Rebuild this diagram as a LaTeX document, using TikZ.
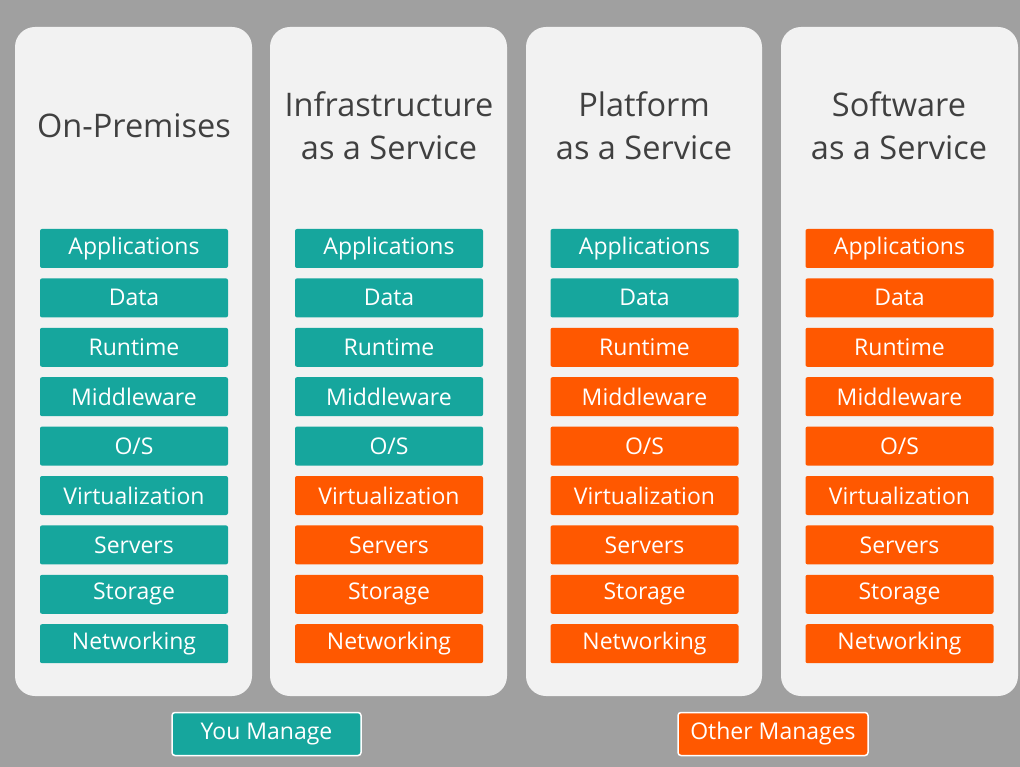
\documentclass[tikz,border=0pt]{standalone}
\usepackage{fontspec}
\setmainfont{Open Sans}
\definecolor{bggray}{RGB}{160, 160, 160}
\definecolor{panelgray}{RGB}{242, 242, 242}
\definecolor{titlegray}{RGB}{64, 64, 64}
\definecolor{youteal}{RGB}{22, 166, 157}
\definecolor{otherorange}{RGB}{255, 88, 0}
\usepackage{tikz}
\usetikzlibrary{positioning}

\begin{document}
\begin{tikzpicture}[
  x=1pt, y=-1pt, node distance=10pt,
  panel/.style={fill=panelgray, rounded corners=20pt},
  ttl/.style={text=titlegray, align=center, font=\fontsize{32.5}{43}\selectfont},
  lay/.style={rounded corners=2pt, minimum width=188pt, minimum height=39pt, inner sep=0pt, text=white, font=\fontsize{23}{26}\selectfont},
  tbox/.style={lay, fill=youteal},
  obox/.style={lay, fill=otherorange},
  legend/.style={draw=white, line width=1.5pt, rounded corners=3pt, minimum height=43pt, inner sep=0pt, text=white, font=\fontsize{23}{26}\selectfont}
]
  \fill[bggray] (0,0) rectangle (1020,767);

  % the four columns
  \fill[panel] (15,27) rectangle (252,696);
  \fill[panel] (270,27) rectangle (507,696);
  \fill[panel] (526,27) rectangle (762,696);
  \fill[panel] (781,27) rectangle (1018,696);

  \node[ttl] (opTitle) at (134,126) {On-Premises};
  \node[ttl] (iaTitle) at (389,126) {Infrastructure\\as a Service};
  \node[ttl] (paTitle) at (644,126) {Platform\\as a Service};
  \node[ttl] (saTitle) at (899,126) {Software\\as a Service};

  % On-Premises
  \node[tbox] (op1) at (134,248.5) {Applications};
  \node[tbox, below=of op1] (op2) {Data};
  \node[tbox, below=of op2] (op3) {Runtime};
  \node[tbox, below=of op3] (op4) {Middleware};
  \node[tbox, below=of op4] (op5) {O/S};
  \node[tbox, below=of op5] (op6) {Virtualization};
  \node[tbox, below=of op6] (op7) {Servers};
  \node[tbox, below=of op7] (op8) {Storage};
  \node[tbox, below=of op8] (op9) {Networking};

  % IaaS
  \node[tbox] (ia1) at (389,248.5) {Applications};
  \node[tbox, below=of ia1] (ia2) {Data};
  \node[tbox, below=of ia2] (ia3) {Runtime};
  \node[tbox, below=of ia3] (ia4) {Middleware};
  \node[tbox, below=of ia4] (ia5) {O/S};
  \node[obox, below=of ia5] (ia6) {Virtualization};
  \node[obox, below=of ia6] (ia7) {Servers};
  \node[obox, below=of ia7] (ia8) {Storage};
  \node[obox, below=of ia8] (ia9) {Networking};

  % PaaS
  \node[tbox] (pa1) at (644.5,248.5) {Applications};
  \node[tbox, below=of pa1] (pa2) {Data};
  \node[obox, below=of pa2] (pa3) {Runtime};
  \node[obox, below=of pa3] (pa4) {Middleware};
  \node[obox, below=of pa4] (pa5) {O/S};
  \node[obox, below=of pa5] (pa6) {Virtualization};
  \node[obox, below=of pa6] (pa7) {Servers};
  \node[obox, below=of pa7] (pa8) {Storage};
  \node[obox, below=of pa8] (pa9) {Networking};

  % SaaS
  \node[obox] (sa1) at (899.5,248.5) {Applications};
  \node[obox, below=of sa1] (sa2) {Data};
  \node[obox, below=of sa2] (sa3) {Runtime};
  \node[obox, below=of sa3] (sa4) {Middleware};
  \node[obox, below=of sa4] (sa5) {O/S};
  \node[obox, below=of sa5] (sa6) {Virtualization};
  \node[obox, below=of sa6] (sa7) {Servers};
  \node[obox, below=of sa7] (sa8) {Storage};
  \node[obox, below=of sa8] (sa9) {Networking};

  % legend
  \node[legend, fill=youteal, minimum width=189pt] (youLeg) at (266.5,734) {You Manage};
  \node[legend, fill=otherorange, minimum width=190pt] (otherLeg) at (773,734) {Other Manages};
\end{tikzpicture}
\end{document}
